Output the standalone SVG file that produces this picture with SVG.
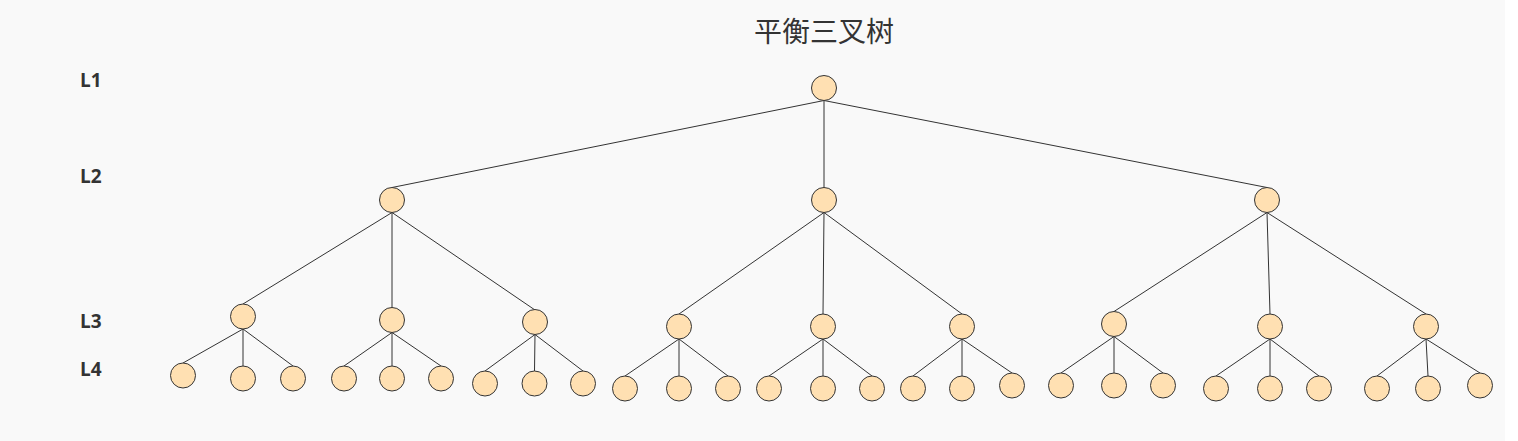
<svg xmlns="http://www.w3.org/2000/svg" width="1518" height="441" viewBox="0 0 1518 441">
<style>
.bg{fill:#f9f9f9}
.n{fill:#ffe0b2;stroke:#333;stroke-width:1}
.e{stroke:#333;stroke-width:1;fill:none}
.lv{font-family:"Open Sans","Noto Sans",sans-serif;font-weight:bold;font-size:19px;fill:#333}
.t{font-family:"Noto Sans CJK SC",sans-serif;font-size:28px;fill:#333}
</style>
<rect x="0" y="0" width="1518" height="441" fill="#fff"/>
<rect class="bg" x="0" y="0" width="1505" height="441"/>
<text class="t" x="824" y="42" text-anchor="middle">平衡三叉树</text>
<g id="levels">
<text class="lv" x="80" y="87">L1</text>
<text class="lv" x="80" y="183">L2</text>
<text class="lv" x="80" y="327.5">L3</text>
<text class="lv" x="80" y="376">L4</text>
</g>
<g id="edges">
<path class="e" d="M824,100.5L392,187.5M824,100.5L824,187.5M824,100.5L1267,187.5"/>
<path class="e" d="M392,212.5L243,304M392,212.5L392,307.5M392,212.5L535,310"/>
<path class="e" d="M824,212.5L679,314M824,212.5L823,314M824,212.5L962,314"/>
<path class="e" d="M1267,212.5L1114,311.5M1267,212.5L1270,314M1267,212.5L1426,314"/>
<path class="e" d="M243,329L183,363M243,329L243,366M243,329L293,366"/>
<path class="e" d="M392,332.5L344,366M392,332.5L392,366M392,332.5L441,366"/>
<path class="e" d="M535,334.5L485,371M535,334.5L534.5,371M535,334.5L583,371"/>
<path class="e" d="M679,339L625,376M679,339L679,376M679,339L728,376"/>
<path class="e" d="M823,339L769,376M823,339L823,376M823,339L872,376"/>
<path class="e" d="M962,339L913,376M962,339L962,376M962,339L1012,373"/>
<path class="e" d="M1114,336.5L1061,373M1114,336.5L1114,373M1114,336.5L1163,373"/>
<path class="e" d="M1270,339L1216,376M1270,339L1270,376M1270,339L1319,376"/>
<path class="e" d="M1426,339L1377,376M1426,339L1428,376M1426,339L1480,373"/>
</g>
<g id="n1"><circle class="n" cx="824" cy="88" r="12.5"/></g>
<g id="n2a"><circle class="n" cx="392" cy="200" r="12.5"/></g>
<g id="n2b"><circle class="n" cx="824" cy="200" r="12.5"/></g>
<g id="n2c"><circle class="n" cx="1267" cy="200" r="12.5"/></g>
<g id="n3a"><circle class="n" cx="243" cy="316.5" r="12.5"/></g>
<g id="n3b"><circle class="n" cx="392" cy="320" r="12.5"/></g>
<g id="n3c"><circle class="n" cx="535" cy="322" r="12.5"/></g>
<g id="n3d"><circle class="n" cx="679" cy="326.5" r="12.5"/></g>
<g id="n3e"><circle class="n" cx="823" cy="326.5" r="12.5"/></g>
<g id="n3f"><circle class="n" cx="962" cy="326.5" r="12.5"/></g>
<g id="n3g"><circle class="n" cx="1114" cy="324" r="12.5"/></g>
<g id="n3h"><circle class="n" cx="1270" cy="326.5" r="12.5"/></g>
<g id="n3i"><circle class="n" cx="1426" cy="326.5" r="12.5"/></g>
<g id="n4a1"><circle class="n" cx="183" cy="375.5" r="12.5"/></g>
<g id="n4a2"><circle class="n" cx="243" cy="378.5" r="12.5"/></g>
<g id="n4a3"><circle class="n" cx="293" cy="378.5" r="12.5"/></g>
<g id="n4b1"><circle class="n" cx="344" cy="378.5" r="12.5"/></g>
<g id="n4b2"><circle class="n" cx="392" cy="378.5" r="12.5"/></g>
<g id="n4b3"><circle class="n" cx="441" cy="378.5" r="12.5"/></g>
<g id="n4c1"><circle class="n" cx="485" cy="383.5" r="12.5"/></g>
<g id="n4c2"><circle class="n" cx="534.5" cy="383.5" r="12.5"/></g>
<g id="n4c3"><circle class="n" cx="583" cy="383.5" r="12.5"/></g>
<g id="n4d1"><circle class="n" cx="625" cy="388.5" r="12.5"/></g>
<g id="n4d2"><circle class="n" cx="679" cy="388.5" r="12.5"/></g>
<g id="n4d3"><circle class="n" cx="728" cy="388.5" r="12.5"/></g>
<g id="n4e1"><circle class="n" cx="769" cy="388.5" r="12.5"/></g>
<g id="n4e2"><circle class="n" cx="823" cy="388.5" r="12.5"/></g>
<g id="n4e3"><circle class="n" cx="872" cy="388.5" r="12.5"/></g>
<g id="n4f1"><circle class="n" cx="913" cy="388.5" r="12.5"/></g>
<g id="n4f2"><circle class="n" cx="962" cy="388.5" r="12.5"/></g>
<g id="n4f3"><circle class="n" cx="1012" cy="385.5" r="12.5"/></g>
<g id="n4g1"><circle class="n" cx="1061" cy="385.5" r="12.5"/></g>
<g id="n4g2"><circle class="n" cx="1114" cy="385.5" r="12.5"/></g>
<g id="n4g3"><circle class="n" cx="1163" cy="385.5" r="12.5"/></g>
<g id="n4h1"><circle class="n" cx="1216" cy="388.5" r="12.5"/></g>
<g id="n4h2"><circle class="n" cx="1270" cy="388.5" r="12.5"/></g>
<g id="n4h3"><circle class="n" cx="1319" cy="388.5" r="12.5"/></g>
<g id="n4i1"><circle class="n" cx="1377" cy="388.5" r="12.5"/></g>
<g id="n4i2"><circle class="n" cx="1428" cy="388.5" r="12.5"/></g>
<g id="n4i3"><circle class="n" cx="1480" cy="385.5" r="12.5"/></g>
</svg>
